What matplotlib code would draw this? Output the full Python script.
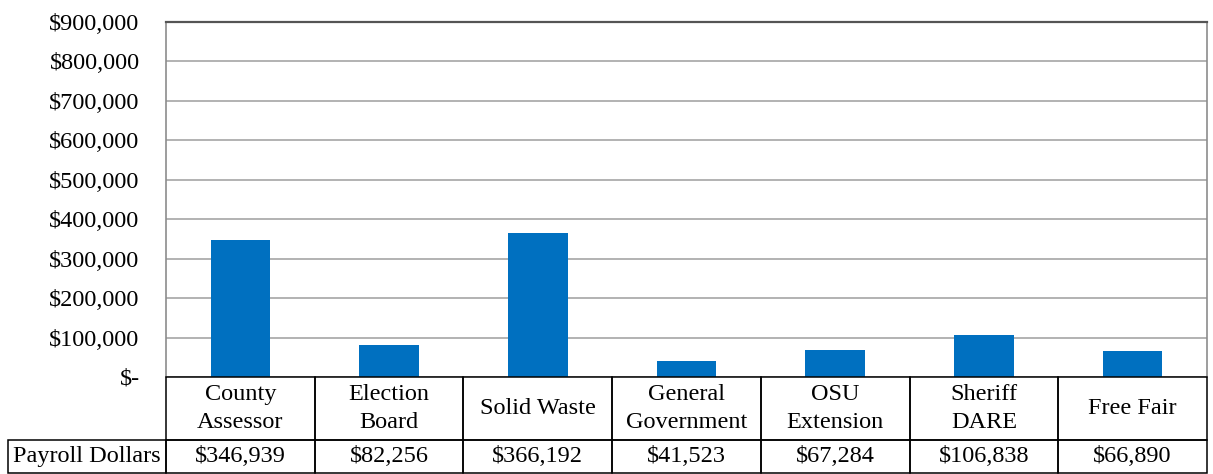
import matplotlib
matplotlib.use("Agg")
import matplotlib.pyplot as plt
from matplotlib.patches import Rectangle
from matplotlib.ticker import FuncFormatter, MultipleLocator

# ---- data ----
categories = ["County\nAssessor", "Election\nBoard", "Solid Waste", "General\nGovernment",
              "OSU\nExtension", "Sheriff\nDARE", "Free Fair"]
payroll = [346939, 82256, 366192, 41523, 67284, 106838, 66890]
series_name = "Payroll Dollars"
y_max = 900000
y_step = 100000

plt.rcParams['font.family'] = ['Liberation Serif', 'DejaVu Serif']
FS = 17.5

fig = plt.figure(figsize=(12.13, 4.74), dpi=100)
W, H = 1213, 474
left_px, right_px, top_px, bot_px = 166, 1207, 22, 377
ax = fig.add_axes([left_px / W, 1 - bot_px / H, (right_px - left_px) / W, (bot_px - top_px) / H])

n = len(categories)
x = list(range(n))
ax.bar(x, payroll, width=0.4, color="#0070C0", zorder=3)
ax.set_xlim(-0.5, n - 0.5)
ax.set_ylim(0, y_max)
ax.yaxis.set_major_locator(MultipleLocator(y_step))
ax.yaxis.set_major_formatter(FuncFormatter(lambda v, p: "$-" if v == 0 else f"${v:,.0f}"))
ax.tick_params(axis='y', length=0, pad=19, labelsize=FS)
ax.tick_params(axis='x', length=0, labelbottom=False)
ax.grid(axis='y', color="#a6a6a6", linewidth=1.2, zorder=0)
ax.set_axisbelow(True)
for s in ['left', 'right']:
    ax.spines[s].set_color("#8c8c8c")
    ax.spines[s].set_linewidth(1.2)
ax.spines['top'].set_color("#555555")
ax.spines['top'].set_linewidth(1.6)
ax.spines['bottom'].set_visible(False)

# ---- data table ----
ax_h_px = bot_px - top_px
ax_w_px = right_px - left_px
row1_h = 63 / ax_h_px
row2_h = 33 / ax_h_px
lab_w = (left_px - 8) / ax_w_px
col_w = 1.0 / n
lw = 1.1
tr = ax.transAxes

def cell(x0, y0, w, h, text):
    ax.add_patch(Rectangle((x0, y0), w, h, transform=tr, fill=False, edgecolor="black",
                           linewidth=lw, clip_on=False, zorder=5))
    ax.text(x0 + w / 2, y0 + h / 2, text, transform=tr, ha="center", va="center",
            fontsize=FS, linespacing=1.4, clip_on=False)

for i, cat in enumerate(categories):
    cell(i * col_w, -row1_h, col_w, row1_h, cat)
    cell(i * col_w, -row1_h - row2_h, col_w, row2_h, f"${payroll[i]:,}")
cell(-lab_w, -row1_h - row2_h, lab_w, row2_h, series_name)

fig.savefig("out.png", dpi=100)
